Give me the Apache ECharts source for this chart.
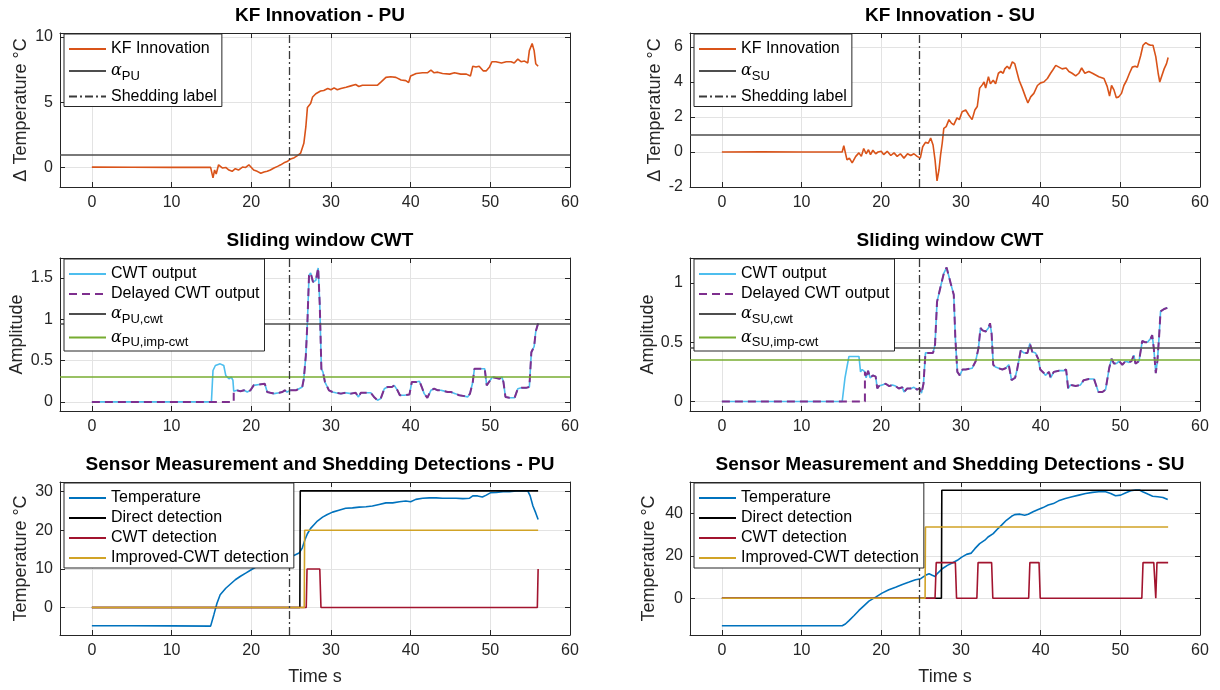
<!DOCTYPE html>
<html>
<head>
<meta charset="UTF-8">
<title>Shedding detection</title>
<script src="https://cdn.jsdelivr.net/npm/echarts@6/dist/echarts.min.js"></script>
<style>
html, body { margin: 0; padding: 0; background: #fff; }
#main { width: 1220px; height: 690px; }
</style>
</head>
<body>
<div id="main"></div>
<script>
// values (time in s)
var shedTime = 24.8;
var xTicks = [0, 10, 20, 30, 40, 50, 60];

// KF innovation - PU
var puKfT = [0, 5, 10, 14.9, 15.2, 15.4, 15.6, 15.9, 16.1, 16.4, 16.8, 17.2, 17.6, 18.0, 18.4, 18.9, 19.3, 19.7, 19.9, 20.3, 20.75, 21.2, 21.6, 22.0, 22.4, 22.85, 23.3, 23.7, 24.1, 24.5, 24.95, 25.4, 25.8, 26.2, 26.6, 26.85, 27.05, 27.45, 27.7, 28.1, 28.3, 28.7, 29.1, 29.6, 30.0, 30.4, 30.8, 31.25, 31.9, 32.5, 33.1, 33.5, 33.95, 34.8, 35.85, 36.3, 36.9, 37.5, 38.15, 38.8, 39.4, 39.75, 40.0, 40.7, 41.5, 42.1, 42.55, 42.95, 43.4, 44.0, 44.9, 45.5, 46.3, 47.0, 47.5, 47.8, 48.2, 48.6, 49.1, 49.5, 49.9, 50.2, 50.7, 51.4, 52.0, 52.6, 53.0, 53.45, 53.85, 54.3, 54.7, 54.9, 55.25, 55.5, 55.7, 56.0];
var puKfV = [0.02, 0.01, 0.0, 0.0, -0.8, -0.2, -0.5, 0.2, 0.1, -0.05, 0.0, -0.2, -0.3, -0.1, -0.2, 0.03, 0.0, 0.2, 0.1, -0.2, -0.3, -0.45, -0.35, -0.3, -0.2, -0.05, 0.08, 0.2, 0.35, 0.45, 0.65, 0.75, 0.9, 1.1, 1.85, 3.1, 4.6, 4.9, 5.4, 5.65, 5.8, 5.85, 5.9, 6.05, 5.95, 6.1, 5.95, 6.05, 6.15, 6.25, 6.35, 6.2, 6.3, 6.3, 6.3, 6.55, 6.9, 6.95, 6.9, 6.7, 6.65, 6.5, 7.0, 7.2, 7.25, 7.25, 7.45, 7.25, 7.3, 7.2, 7.15, 7.25, 7.15, 7.15, 7.0, 7.75, 7.7, 7.75, 7.4, 7.4, 7.7, 8.1, 8.1, 8.0, 8.1, 8.1, 8.0, 8.3, 8.1, 8.15, 8.0, 8.95, 9.5, 8.95, 7.95, 7.75];

// KF innovation - SU
var suKfT = [0, 5, 10, 15.1, 15.3, 15.7, 16.0, 16.35, 16.8, 17.2, 17.5, 17.8, 18.1, 18.4, 18.65, 18.95, 19.3, 19.6, 20.0, 20.3, 20.75, 21.2, 21.6, 22.0, 22.4, 22.85, 23.3, 23.7, 24.1, 24.5, 24.9, 25.2, 25.55, 25.9, 26.2, 26.5, 26.75, 27.0, 27.25, 27.45, 27.65, 27.85, 28.15, 28.5, 28.8, 29.1, 29.5, 29.8, 30.15, 30.6, 31.0, 31.4, 31.75, 32.05, 32.35, 32.7, 32.9, 33.1, 33.45, 33.7, 34.05, 34.35, 34.7, 35.0, 35.3, 35.5, 35.8, 36.1, 36.45, 36.75, 36.95, 37.3, 37.7, 38.1, 38.4, 38.75, 39.15, 39.6, 40.0, 40.4, 40.85, 41.25, 41.55, 41.9, 42.3, 42.7, 43.2, 43.55, 43.95, 44.4, 44.8, 45.15, 45.55, 46.05, 46.5, 46.9, 47.3, 47.95, 48.35, 48.65, 48.9, 49.2, 49.5, 49.8, 50.15, 50.45, 50.8, 51.15, 51.5, 51.85, 52.15, 52.35, 52.55, 52.85, 53.2, 53.5, 53.8, 54.1, 54.45, 54.75, 54.95, 55.2, 55.5, 55.8, 56.0];
var suKfV = [0.0, 0.01, 0.0, 0.0, 0.36, -0.45, -0.35, -0.62, -0.25, -0.05, -0.25, 0.2, -0.1, 0.13, -0.15, 0.1, -0.1, 0.0, 0.04, -0.15, 0.04, -0.2, -0.05, -0.25, -0.1, -0.35, -0.1, -0.2, -0.1, -0.25, -0.35, 0.3, 0.55, 0.5, 0.8, 0.4, -0.45, -1.65, -1.0, -0.15, 0.5, 1.35, 1.45, 1.85, 1.65, 1.55, 1.95, 1.85, 2.3, 2.4, 2.1, 1.85, 2.4, 2.6, 3.65, 3.85, 4.0, 3.65, 4.3, 3.9, 4.1, 3.9, 4.5, 4.6, 4.5, 4.75, 4.9, 4.75, 5.15, 5.05, 4.95, 4.1, 3.65, 3.15, 2.8, 3.15, 3.35, 3.8, 3.95, 4.0, 4.2, 4.5, 4.7, 4.95, 4.85, 4.75, 4.8, 4.6, 4.5, 4.35, 4.5, 4.8, 4.5, 4.6, 4.5, 4.4, 4.3, 4.2, 3.75, 3.2, 3.8, 3.55, 3.1, 3.15, 3.35, 3.8, 4.1, 4.5, 4.85, 4.9, 4.85, 4.95, 5.5, 6.1, 6.25, 6.15, 6.1, 6.1, 5.45, 4.5, 4.0, 3.9, 4.75, 5.05, 5.4];

// sliding window CWT - PU
var puCwtT = [0, 15.0, 15.2, 15.5, 16.1, 16.55, 16.8, 17.2, 17.5, 17.7, 17.8, 18.2, 18.65, 19.1, 19.5, 19.9, 20.3, 21.0, 21.7, 22.0, 22.4, 22.85, 23.5, 23.9, 24.2, 24.5, 24.95, 25.6, 26.0, 26.4, 26.6, 26.85, 27.05, 27.25, 27.45, 27.75, 28.1, 28.4, 28.6, 28.8, 29.0, 29.25, 29.55, 29.75, 30.2, 30.6, 31.25, 31.85, 32.5, 33.1, 33.45, 33.75, 34.4, 35.0, 35.4, 35.85, 36.25, 36.7, 37.1, 37.65, 37.95, 38.35, 38.65, 39.2, 39.85, 40.15, 40.7, 41.1, 41.4, 41.7, 42.1, 42.55, 42.95, 43.4, 43.8, 44.25, 44.65, 45.05, 45.6, 46.1, 46.75, 47.15, 47.45, 47.8, 48.0, 48.65, 49.3, 49.55, 49.9, 50.25, 50.75, 51.15, 51.45, 51.65, 51.9, 52.4, 53.05, 53.45, 53.9, 54.5, 54.9, 55.15, 55.5, 55.7, 56.0];
var puCwtV = [0, 0, 0.38, 0.44, 0.46, 0.44, 0.32, 0.28, 0.3, 0.26, 0.13, 0.14, 0.13, 0.14, 0.12, 0.14, 0.2, 0.21, 0.22, 0.12, 0.11, 0.1, 0.11, 0.12, 0.14, 0.12, 0.14, 0.14, 0.16, 0.18, 0.28, 0.56, 0.97, 1.53, 1.56, 1.45, 1.47, 1.62, 1.17, 0.4, 0.36, 0.24, 0.18, 0.14, 0.12, 0.11, 0.1, 0.11, 0.1, 0.11, 0.06, 0.11, 0.11, 0.11, 0.06, 0.02, 0.04, 0.16, 0.18, 0.18, 0.2, 0.14, 0.08, 0.08, 0.09, 0.24, 0.24, 0.25, 0.18, 0.1, 0.05, 0.14, 0.16, 0.14, 0.14, 0.13, 0.12, 0.12, 0.1, 0.08, 0.07, 0.06, 0.1, 0.24, 0.4, 0.4, 0.4, 0.2, 0.25, 0.3, 0.29, 0.28, 0.3, 0.24, 0.06, 0.05, 0.05, 0.16, 0.17, 0.17, 0.18, 0.6, 0.67, 0.85, 0.95];
var puDelay = 17.8;

// sliding window CWT - SU
var suCwtT = [0, 15.1, 15.45, 15.75, 15.95, 17.2, 17.4, 17.6, 17.95, 18.1, 18.35, 18.6, 18.95, 19.3, 19.5, 19.7, 20.1, 20.55, 21.0, 21.4, 21.8, 22.2, 22.65, 22.85, 23.25, 23.7, 24.1, 24.5, 24.8, 25.05, 25.3, 25.55, 26.0, 26.5, 26.75, 27.0, 27.45, 27.85, 28.2, 28.4, 28.7, 28.9, 29.1, 29.3, 29.55, 29.85, 30.2, 30.6, 31.4, 31.85, 32.2, 32.45, 32.7, 33.1, 33.45, 33.65, 33.85, 34.05, 34.35, 34.75, 35.2, 35.6, 36.0, 36.35, 36.8, 37.05, 37.5, 37.9, 38.35, 38.65, 38.95, 39.35, 39.7, 39.95, 40.4, 40.6, 41.05, 41.25, 41.65, 42.3, 42.9, 43.2, 43.45, 43.75, 44.4, 45.0, 45.4, 46.05, 46.7, 46.9, 47.25, 47.75, 48.15, 48.6, 48.9, 49.2, 49.5, 49.85, 50.25, 50.65, 51.1, 51.4, 51.7, 51.9, 52.35, 52.75, 53.1, 53.4, 53.8, 54.0, 54.2, 54.45, 54.65, 54.85, 55.05, 55.5, 55.9];
var suCwtV = [0, 0, 0.2, 0.31, 0.38, 0.38, 0.25, 0.27, 0.25, 0.2, 0.26, 0.2, 0.22, 0.21, 0.11, 0.13, 0.14, 0.15, 0.13, 0.14, 0.13, 0.11, 0.12, 0.08, 0.11, 0.11, 0.12, 0.1, 0.11, 0.07, 0.15, 0.41, 0.41, 0.41, 0.48, 0.84, 0.97, 1.08, 1.13, 1.12, 1.0, 0.95, 0.9, 0.53, 0.25, 0.22, 0.27, 0.27, 0.28, 0.34, 0.45, 0.62, 0.6, 0.59, 0.62, 0.66, 0.57, 0.31, 0.29, 0.28, 0.27, 0.28, 0.31, 0.18, 0.2, 0.27, 0.43, 0.41, 0.41, 0.49, 0.42, 0.41, 0.36, 0.27, 0.24, 0.22, 0.25, 0.2, 0.25, 0.26, 0.26, 0.27, 0.11, 0.14, 0.13, 0.14, 0.18, 0.19, 0.19, 0.15, 0.08, 0.08, 0.1, 0.28, 0.36, 0.32, 0.32, 0.34, 0.31, 0.34, 0.33, 0.34, 0.39, 0.32, 0.34, 0.51, 0.5, 0.5, 0.53, 0.56, 0.45, 0.24, 0.34, 0.53, 0.76, 0.78, 0.79];
var suDelay = 17.95;

// thresholds
var alphaPu = 1.0, alphaSu = 1.0;
var alphaPuCwt = 0.95, alphaPuImp = 0.3;
var alphaSuCwt = 0.45, alphaSuImp = 0.35;

// sensor temperature - PU
var puTempT = [0, 5, 10, 14.9, 15.3, 15.7, 16.1, 16.8, 17.4, 18.0, 18.65, 19.3, 20.0, 20.75, 21.4, 22.0, 22.65, 23.5, 24.1, 24.75, 25.35, 26.0, 26.4, 26.75, 27.05, 27.45, 27.9, 28.3, 28.95, 29.55, 30.2, 31.0, 31.85, 32.7, 33.55, 34.4, 35.2, 36.05, 36.9, 37.75, 38.6, 39.4, 40.0, 40.65, 41.5, 42.35, 43.2, 44.0, 44.85, 45.7, 46.55, 47.4, 47.8, 48.4, 49.0, 49.5, 50.0, 50.75, 51.6, 52.4, 53.25, 54.1, 54.7, 55.0, 55.35, 55.7, 56.0];
var puTempV = [-4.7, -4.7, -4.75, -4.8, -1.9, 1.1, 3.3, 5.0, 6.1, 7.2, 8.1, 8.9, 9.8, 10.7, 11.3, 11.8, 12.1, 12.6, 12.8, 13.2, 13.5, 14.1, 15.4, 17.6, 19.1, 20.5, 21.5, 22.4, 23.4, 24.1, 24.7, 25.2, 25.7, 25.8, 26.0, 26.1, 26.3, 26.7, 27.1, 27.1, 27.4, 27.6, 27.4, 28.0, 28.3, 28.4, 28.4, 28.3, 28.3, 28.3, 28.2, 28.3, 28.9, 28.9, 28.6, 29.1, 29.7, 29.8, 30.0, 30.0, 30.2, 30.2, 30.2, 28.9, 26.3, 24.5, 22.8];
var puDirT = [0, 26.1, 26.15, 56];
var puDirV = [0, 0, 30.2, 30.2];
var puCdT = [0, 26.9, 27.0, 28.6, 28.75, 55.9, 56.0];
var puCdV = [0, 0, 10, 10, 0, 0, 10];
var puImpT = [0, 26.65, 26.7, 56];
var puImpV = [0, 0, 20, 20];

// sensor temperature - SU
var suTempT = [0, 5, 10, 15.1, 15.5, 15.95, 16.6, 17.2, 17.85, 18.45, 19.3, 20.1, 20.95, 21.8, 22.65, 23.5, 24.3, 24.95, 25.55, 26.0, 26.4, 26.75, 27.0, 27.65, 28.3, 28.9, 29.55, 30.1, 30.7, 31.3, 31.75, 32.35, 33.0, 33.4, 34.05, 34.65, 35.1, 35.7, 36.35, 36.75, 37.4, 38.0, 38.45, 39.05, 39.7, 40.3, 40.95, 41.6, 42.25, 43.1, 43.95, 44.8, 45.65, 46.5, 47.3, 48.15, 48.8, 49.4, 50.05, 50.7, 51.3, 51.95, 52.4, 52.8, 53.45, 54.05, 54.7, 55.35, 55.95];
var suTempV = [-13.0, -13.0, -13.0, -13.0, -12.2, -10.6, -8.2, -5.8, -3.5, -1.4, 0.5, 2.4, 4.0, 5.2, 6.5, 7.6, 8.7, 9.2, 10.8, 11.5, 10.8, 10.3, 11.5, 13.9, 15.5, 16.6, 17.9, 19.4, 20.7, 21.3, 23.4, 25.8, 27.4, 28.9, 30.5, 32.9, 34.5, 36.8, 38.7, 39.5, 39.7, 39.2, 39.7, 40.8, 41.9, 42.8, 44.0, 44.7, 46.0, 47.1, 47.9, 48.7, 49.5, 50.0, 50.3, 50.3, 49.5, 48.4, 48.7, 49.8, 50.8, 51.1, 51.1, 50.3, 49.2, 48.2, 47.9, 47.6, 46.6];
var suDirT = [0, 27.55, 27.6, 56];
var suDirV = [0, 0, 51, 51];
var suCdT = [0, 26.75, 26.9, 29.3, 29.45, 32.0, 32.15, 33.85, 34.0, 38.5, 38.65, 39.8, 39.95, 52.7, 52.85, 54.2, 54.45, 54.6, 56];
var suCdV = [0, 0, 16.8, 16.8, 0, 0, 16.8, 16.8, 0, 0, 16.8, 16.8, 0, 0, 16.8, 16.8, 0, 16.8, 16.8];
var suImpT = [0, 25.5, 25.55, 56];
var suImpV = [0, 0, 33.6, 33.6];

var axisColor = '#262626';
var gridColor = '#e3e3e3';
var fontFam = '"Liberation Sans", Arial, sans-serif';

function pts(t, v) {
    return t.map(function (x, i) { return [x, v[i]]; });
}
// delayed CWT: zero until the delay, then the CWT output
function delayed(t, v, d) {
    var out = [[0, 0], [d, 0]];
    t.forEach(function (x, i) { if (x >= d) out.push([x, v[i]]); });
    return out;
}

var grids = [
    { left: 60, top: 33, width: 510, height: 154 },
    { left: 690, top: 33, width: 510, height: 154 },
    { left: 60, top: 258, width: 510, height: 153 },
    { left: 690, top: 258, width: 510, height: 153 },
    { left: 60, top: 482, width: 510, height: 153 },
    { left: 690, top: 482, width: 510, height: 153 }
];

var panels = [
    { title: 'KF Innovation - PU', yMin: -1.5, yMax: 10.3, yTicks: [0, 5, 10], yName: 'Δ Temperature °C', yGap: 30 },
    { title: 'KF Innovation - SU', yMin: -2, yMax: 6.8, yTicks: [-2, 0, 2, 4, 6], yName: 'Δ Temperature °C', yGap: 26 },
    { title: 'Sliding window CWT', yMin: -0.11, yMax: 1.74, yTicks: [0, 0.5, 1, 1.5], yName: 'Amplitude', yGap: 34 },
    { title: 'Sliding window CWT', yMin: -0.08, yMax: 1.21, yTicks: [0, 0.5, 1], yName: 'Amplitude', yGap: 33 },
    { title: 'Sensor Measurement and Shedding Detections - PU', yMin: -7.1, yMax: 32.5, yTicks: [0, 10, 20, 30], yName: 'Temperature °C', yGap: 30, xName: 'Time s' },
    { title: 'Sensor Measurement and Shedding Detections - SU', yMin: -17.4, yMax: 54.9, yTicks: [0, 20, 40], yName: 'Temperature °C', yGap: 32, xName: 'Time s' }
];

var titles = [], xAxes = [], yAxes = [], legends = [], series = [];

panels.forEach(function (p, i) {
    var g = grids[i];
    titles.push({
        text: p.title, left: g.left + g.width / 2, top: g.top - 32, textAlign: 'center',
        textStyle: { fontSize: 19, fontWeight: 'bold', color: '#000', fontFamily: fontFam }
    });
    var lineOn = { onZero: false, lineStyle: { color: axisColor, width: 1 } };
    xAxes.push({
        type: 'value', gridIndex: i, min: -4, max: 60, position: 'bottom',
        axisLine: lineOn,
        axisTick: { inside: true, length: 5, customValues: xTicks, lineStyle: { color: axisColor } },
        axisLabel: { customValues: xTicks, fontSize: 16, color: axisColor, margin: 8, fontFamily: fontFam },
        splitLine: { show: true, lineStyle: { color: gridColor } },
        name: p.xName || '', nameLocation: 'middle', nameGap: 33,
        nameTextStyle: { fontSize: 18, color: axisColor, fontFamily: fontFam }
    });
    xAxes.push({
        type: 'value', gridIndex: i, min: -4, max: 60, position: 'top',
        axisLine: lineOn,
        axisTick: { inside: true, length: 5, customValues: xTicks, lineStyle: { color: axisColor } },
        axisLabel: { show: false }, splitLine: { show: false }
    });
    yAxes.push({
        type: 'value', gridIndex: i, min: p.yMin, max: p.yMax, position: 'left',
        axisLine: { show: true, onZero: false, lineStyle: { color: axisColor, width: 1 } },
        axisTick: { show: true, inside: true, length: 5, customValues: p.yTicks, lineStyle: { color: axisColor } },
        axisLabel: { customValues: p.yTicks, fontSize: 16, color: axisColor, margin: 7, fontFamily: fontFam },
        splitLine: { show: true, lineStyle: { color: gridColor } },
        name: p.yName, nameLocation: 'middle', nameGap: p.yGap, nameRotate: 90,
        nameTextStyle: { fontSize: 18, color: axisColor, fontFamily: fontFam }
    });
    yAxes.push({
        type: 'value', gridIndex: i, min: p.yMin, max: p.yMax, position: 'right',
        axisLine: { show: true, onZero: false, lineStyle: { color: axisColor, width: 1 } },
        axisTick: { show: true, inside: true, length: 5, customValues: p.yTicks, lineStyle: { color: axisColor } },
        axisLabel: { show: false }, splitLine: { show: false }
    });
});

function addLine(i, name, data, color, width, type, z) {
    series.push({
        type: 'line', name: name, data: data, xAxisIndex: 2 * i, yAxisIndex: 2 * i,
        symbol: 'none', showSymbol: false, silent: true, z: z || 2,
        lineStyle: { color: color, width: width, type: type || 'solid' },
        itemStyle: { color: color }
    });
}
function addMark(i, name, mark, color, width, type, z) {
    series.push({
        type: 'line', name: name, data: [], xAxisIndex: 2 * i, yAxisIndex: 2 * i,
        symbol: 'none', showSymbol: false, silent: true, z: z || 3,
        lineStyle: { color: color, width: width, type: type },
        itemStyle: { color: color },
        markLine: {
            silent: true, symbol: 'none', label: { show: false },
            lineStyle: { color: color, width: width, type: type },
            data: [mark]
        }
    });
}

var dashDot = [8, 3, 2, 3];
var thrColor = '#4d4d4d';

// row 1: KF innovation
addLine(0, 'KF Innovation', pts(puKfT, puKfV), '#D95319', 1.6);
addMark(0, 'α_PU', { yAxis: alphaPu }, thrColor, 1.6, 'solid');
addMark(0, 'Shedding label', { xAxis: shedTime }, '#3a3a3a', 1.3, dashDot);
addLine(1, 'KF Innovation', pts(suKfT, suKfV), '#D95319', 1.6);
addMark(1, 'α_SU', { yAxis: alphaSu }, thrColor, 1.6, 'solid');
addMark(1, 'Shedding label', { xAxis: shedTime }, '#3a3a3a', 1.3, dashDot);

// row 2: CWT
addLine(2, 'CWT output', pts(puCwtT, puCwtV), '#4DBEEE', 1.6);
addLine(2, 'Delayed CWT output', delayed(puCwtT, puCwtV, puDelay), '#7E2F8E', 2, [8, 5], 3);
addMark(2, 'α_PU,cwt', { yAxis: alphaPuCwt }, thrColor, 1.6, 'solid');
addMark(2, 'α_PU,imp-cwt', { yAxis: alphaPuImp }, '#77AC30', 1.6, 'solid');
addMark(2, 'shed2', { xAxis: shedTime }, '#3a3a3a', 1.3, dashDot);
addLine(3, 'CWT output', pts(suCwtT, suCwtV), '#4DBEEE', 1.6);
addLine(3, 'Delayed CWT output', delayed(suCwtT, suCwtV, suDelay), '#7E2F8E', 2, [8, 5], 3);
addMark(3, 'α_SU,cwt', { yAxis: alphaSuCwt }, thrColor, 1.6, 'solid');
addMark(3, 'α_SU,imp-cwt', { yAxis: alphaSuImp }, '#77AC30', 1.6, 'solid');
addMark(3, 'shed3', { xAxis: shedTime }, '#3a3a3a', 1.3, dashDot);

// row 3: sensor and detections
addLine(4, 'Temperature', pts(puTempT, puTempV), '#0072BD', 1.6);
addLine(4, 'Direct detection', pts(puDirT, puDirV), '#000000', 1.6);
addLine(4, 'CWT detection', pts(puCdT, puCdV), '#A2142F', 1.6);
addLine(4, 'Improved-CWT detection', pts(puImpT, puImpV), '#D1A326', 1.6);
addMark(4, 'shed4', { xAxis: shedTime }, '#3a3a3a', 1.3, dashDot);
addLine(5, 'Temperature', pts(suTempT, suTempV), '#0072BD', 1.6);
addLine(5, 'Direct detection', pts(suDirT, suDirV), '#000000', 1.6);
addLine(5, 'CWT detection', pts(suCdT, suCdV), '#A2142F', 1.6);
addLine(5, 'Improved-CWT detection', pts(suImpT, suImpV), '#D1A326', 1.6);
addMark(5, 'shed5', { xAxis: shedTime }, '#3a3a3a', 1.3, dashDot);

var legendItems = [
    ['KF Innovation', 'α_PU', 'Shedding label'],
    ['KF Innovation', 'α_SU', 'Shedding label'],
    ['CWT output', 'Delayed CWT output', 'α_PU,cwt', 'α_PU,imp-cwt'],
    ['CWT output', 'Delayed CWT output', 'α_SU,cwt', 'α_SU,imp-cwt'],
    ['Temperature', 'Direct detection', 'CWT detection', 'Improved-CWT detection'],
    ['Temperature', 'Direct detection', 'CWT detection', 'Improved-CWT detection']
];
var legendGaps = [6, 6, 4, 4, 4, 4];

legendItems.forEach(function (items, i) {
    var g = grids[i];
    legends.push({
        data: items, orient: 'vertical', left: g.left + 4, top: g.top + 1,
        selectedMode: false, itemWidth: 37, itemHeight: 14, itemGap: legendGaps[i],
        padding: [7, 5, 2, 4], backgroundColor: '#fff', borderColor: axisColor, borderWidth: 1,
        borderRadius: 0, z: 10,
        itemStyle: { opacity: 0 },
        textStyle: {
            fontSize: 16, color: '#000', fontFamily: fontFam,
            rich: {
                g: { fontSize: 16, fontFamily: 'DejaVu Serif', fontStyle: 'italic', color: '#000' },
                s: { fontSize: 13, color: '#000', fontFamily: fontFam, padding: [10, 0, 0, 0] }
            }
        },
        formatter: function (name) {
            if (name.indexOf('α_') === 0) return '{g|α}{s|' + name.slice(2) + '}';
            return name;
        }
    });
});

var chart = echarts.init(document.getElementById('main'), null, { renderer: 'canvas' });
chart.setOption({
    animation: false,
    backgroundColor: '#fff',
    textStyle: { fontFamily: fontFam },
    title: titles,
    grid: grids,
    xAxis: xAxes,
    yAxis: yAxes,
    legend: legends,
    series: series
});
</script>
</body>
</html>
